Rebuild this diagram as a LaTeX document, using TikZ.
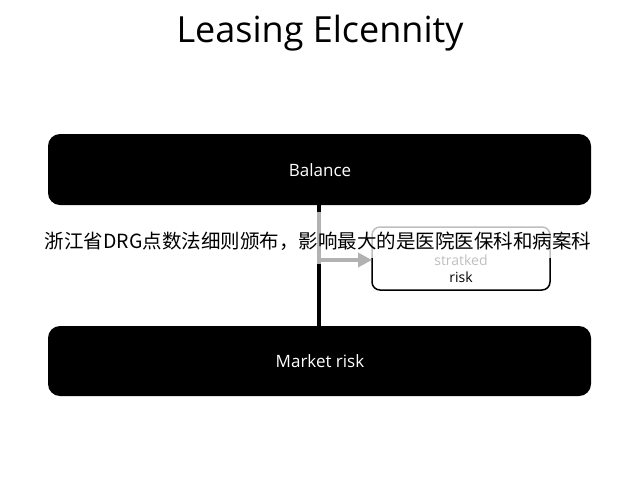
\documentclass[tikz,border=0pt]{standalone}
\usepackage{fontspec}
\setmainfont{Open Sans}
\newfontfamily\cjk{Noto Sans CJK SC}
\usetikzlibrary{arrows.meta}
\begin{document}
\begin{tikzpicture}[x=1pt,y=-1pt,
  bar/.style={fill=black,rounded corners=12pt,text=white,font=\fontsize{17}{20}\selectfont},
  gr/.style={draw=black!30,line width=4pt}]
\useasboundingbox (0,0) rectangle (640,480);
\node (title) at (320,33) {\fontsize{36}{40}\selectfont Leasing Elcennity};
\path[bar] (48,134) rectangle (591,205);
\node[text=white,font=\fontsize{17}{20}\selectfont] (bal) at (320,170) {Balance};
\path[bar] (48,326) rectangle (591,396);
\node[text=white,font=\fontsize{17}{20}\selectfont] (mkt) at (320,361) {Market risk};
\draw[black!25,line width=1.5pt,rounded corners=8pt] (372,262) -- (372,227) -- (550,227) -- (550,262);
\draw[black,line width=1.5pt,rounded corners=8pt] (372,258) -- (372,290) -- (550,290) -- (550,258);
\node (box) at (461,258) {};
\node[text=black!25,font=\fontsize{14}{16}\selectfont] at (461,260) {stratked};
\node[font=\fontsize{14}{16}\selectfont] at (461,277) {risk};
\coordinate (j) at (319,260);
\draw[line width=4pt] (319,205) -- (319,326);
\draw[gr] (319,212) -- (319,264);
\draw[gr,-{Triangle[length=14pt,width=14pt]}] (j) -- (372,260);
\node[font=\cjk\fontsize{19.5}{22}\selectfont] (cap) at (318,241) {浙江省DRG点数法细则颁布，影响最大的是医院医保科和病案科};
\end{tikzpicture}
\end{document}
